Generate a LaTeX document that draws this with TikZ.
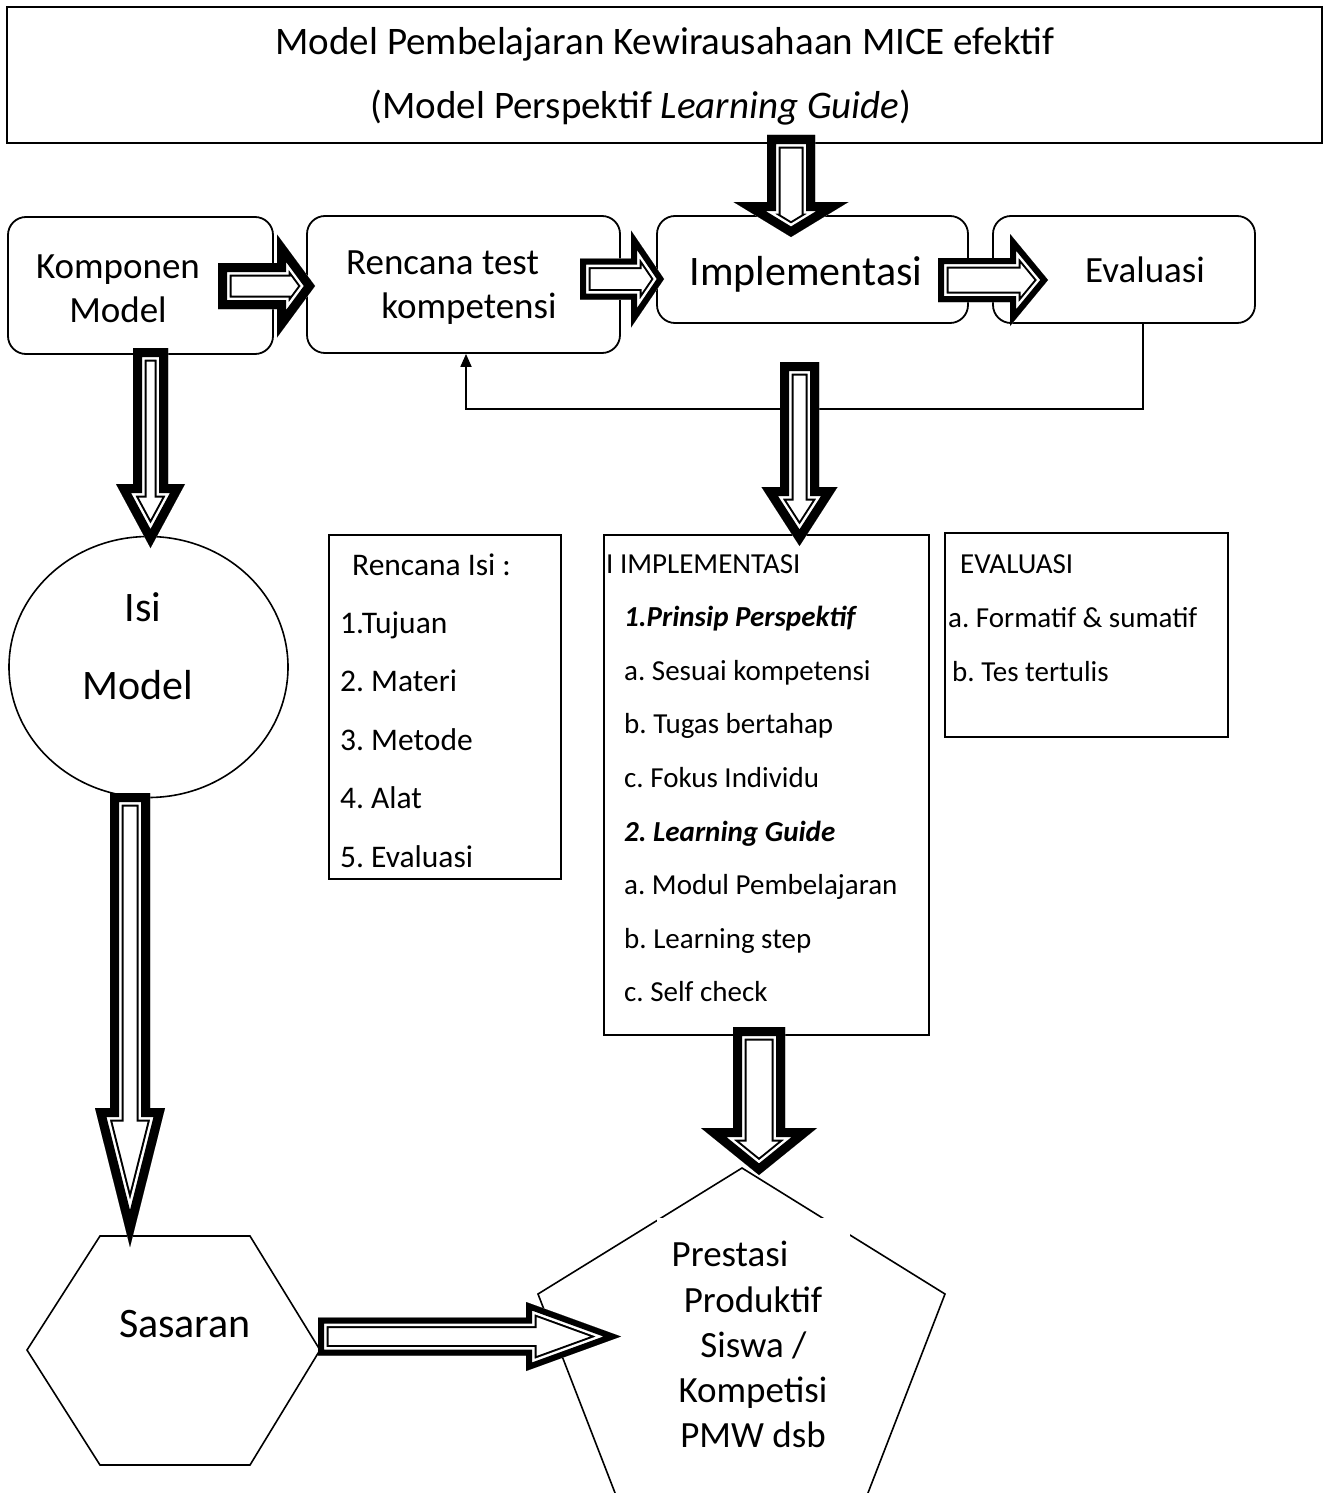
\documentclass[tikz,border=0pt]{standalone}
\usepackage{fontspec}
\setmainfont{Carlito}
\usetikzlibrary{calc,arrows.meta,shapes.geometric}
\frenchspacing

% Hollow block arrow: white body, thick black rim, thin white gap, thin black inner line.
% #1 = rim thickness, #2 = closed outline path
\newcommand\blockarrow[2][9]{%
  \pgfmathsetmacro\bwOuter{2*(#1+4.5)}%
  \pgfmathsetmacro\bwGap{2*(#1+2.5)}%
  \pgfmathsetmacro\bwRim{2*#1}%
  \fill[white] #2;
  \begin{scope}
    \clip #2;
    \draw[line width=\bwOuter pt, line join=miter, miter limit=30] #2;
    \draw[white, line width=\bwGap pt, line join=miter, miter limit=30] #2;
    \draw[line width=\bwRim pt, line join=miter, miter limit=30] #2;
  \end{scope}}

% downward block arrow: [rim]{start}{tip}{shaft half width}{head half width}{head length}
\newcommand\downblock[6][9]{%
  \blockarrow[#1]{($(#2)+(-#4,0)$) -- ($(#2)+(#4,0)$) -- ($(#3)+(#4,-#6)$) -- ($(#3)+(#5,-#6)$) -- (#3) -- ($(#3)+(-#5,-#6)$) -- ($(#3)+(-#4,-#6)$) -- cycle}}

% rightward block arrow: [rim]{start}{tip}{shaft half width}{head half width}{head length}
\newcommand\rightblock[6][9]{%
  \blockarrow[#1]{($(#2)+(0,-#4)$) -- ($(#3)+(-#6,-#4)$) -- ($(#3)+(-#6,-#5)$) -- (#3) -- ($(#3)+(-#6,#5)$) -- ($(#3)+(-#6,#4)$) -- ($(#2)+(0,#4)$) -- cycle}}

\begin{document}
\begin{tikzpicture}[x=1pt,y=-1pt,
  roundbox/.style={draw, line width=1.8pt, rounded corners=18pt, inner sep=0pt},
  plainbox/.style={draw, line width=1.8pt, inner sep=0pt},
  shapeline/.style={line width=1.6pt},
  txtc/.style={inner sep=0pt, anchor=base},
  txtw/.style={inner sep=0pt, anchor=base west},
  fontTitle/.style={font=\fontsize{39}{47}\selectfont},
  fontMid/.style={font=\fontsize{37}{44}\selectfont},
  fontBig/.style={font=\fontsize{42}{50}\selectfont},
  fontList/.style={font=\fontsize{29}{35}\selectfont},
  fontListR/.style={font=\fontsize{31.5}{37}\selectfont},
  feedback/.style={line width=1.8pt, -{Triangle[width=11pt,length=13pt]}},
]
\fill[white] (0,0) rectangle (1331,1493);
\useasboundingbox (0,0) rectangle (1331,1493);

% title
\node[plainbox, minimum width=1315pt, minimum height=136pt] (title) at (664.5,75) {};
\node[txtc, fontTitle] (title1) at (665,55) {Model Pembelajaran Kewirausahaan MICE efektif};
\node[txtc, fontTitle] (title2) at (641,118) {(Model Perspektif \textit{Learning Guide})};

% process row
\node[roundbox, minimum width=265pt, minimum height=137pt] (komp) at (140.5,285.5) {};
\node[txtc, fontMid] (komp1) at (118,278) {Komponen};
\node[txtc, fontMid] (komp2) at (118,322) {Model};

\node[roundbox, minimum width=313pt, minimum height=137pt] (renc) at (463.5,284.5) {};
\node[txtc, fontMid] (renc1) at (442.5,274) {Rencana test};
\node[txtc, fontMid] (renc2) at (469,318) {kompetensi};

\node[roundbox, minimum width=311pt, minimum height=107pt] (impl) at (812.5,269.5) {};
\node[txtc, fontBig] (impl1) at (806,285) {Implementasi};

\node[roundbox, minimum width=262pt, minimum height=107pt] (eval) at (1124,269.5) {};
\node[txtw, fontMid] (eval1) at (1085,282) {Evaluasi};

% detail boxes
\node[plainbox, minimum width=232pt, minimum height=344pt] (isibox) at (445,707) {};
\node[txtw, fontListR] (ri0) at (352,575) {Rencana Isi :};
\foreach \t [count=\i] in {1.Tujuan, 2. Materi, 3. Metode, 4. Alat, 5. Evaluasi}
  \node[txtw, fontListR] (ri\i) at (340,{575+58.4*\i}) {\t};

\node[plainbox, minimum width=325pt, minimum height=500pt] (implbox) at (766.5,785) {};
\node[txtw, fontList] (il0) at (606,573) {I IMPLEMENTASI};
\foreach \t [count=\i] in {{\bfseries\itshape 1.Prinsip Perspektif}, a. Sesuai kompetensi, b. Tugas bertahap, c. Fokus Individu, {\bfseries\itshape 2. Learning Guide}, a. Modul Pembelajaran, b. Learning step, c. Self check}
  \node[txtw, fontList] (il\i) at (624,{573+53.6*\i}) {\t};

\node[plainbox, minimum width=283pt, minimum height=204pt] (evalbox) at (1086.5,635) {};
\node[txtw, fontList] (el0) at (960,573) {EVALUASI};
\node[txtw, fontList] (el1) at (948,627) {a. Formatif \& sumatif};
\node[txtw, fontList] (el2) at (952,681) {b. Tes tertulis};

% content circle
\node[draw, ellipse, line width=1.6pt, minimum width=279pt, minimum height=261pt, inner sep=0pt] (isi) at (148.5,667) {};
\node[txtc, fontBig] (isi1) at (143,621) {Isi};
\node[txtc, fontBig] (isi2) at (138,699) {Model};

% target hexagon
\draw[shapeline] (27,1350) -- (100,1236) -- (250,1236) -- (320,1350) -- (250,1465) -- (100,1465) -- cycle;
\node[txtc, fontBig] (sas) at (185,1337) {Sasaran};

% outcome pentagon, running off the page bottom
\begin{scope}
  \clip (0,0) rectangle (1331,1493);
  \draw[shapeline] (742,1168) -- (945,1294) -- (842,1560) -- (641,1560) -- (538,1294) -- cycle;
\end{scope}
\fill[white] (657,1218) rectangle (850,1480);
\node[txtc, fontMid] (pr1) at (730,1266) {Prestasi};
\node[txtc, fontMid] (pr2) at (753,1312) {Produktif};
\node[txtc, fontMid] (pr3) at (753.5,1357) {Siswa /};
\node[txtc, fontMid] (pr4) at (753,1402) {Kompetisi};
\node[txtc, fontMid] (pr5) at (753,1447) {PMW dsb};

% feedback from evaluation to test planning
\coordinate (fbR) at (1143,409);
\coordinate (fbL) at (466,409);
\draw[feedback] (eval.south -| fbR) -- (fbR) -- (fbL) -- (renc.south -| fbL);

% block arrows
\coordinate (a0s) at (791,135);    \coordinate (a0e) at (791,237);
\coordinate (a1s) at (218,286);    \coordinate (a1e) at (315,286);
\coordinate (a2s) at (580,279);    \coordinate (a2e) at (664,279);
\coordinate (a3s) at (938,280);    \coordinate (a3e) at (1048,280);
\coordinate (a4s) at (150.5,348);  \coordinate (a4e) at (150.5,548);
\coordinate (a5s) at (799.5,362);  \coordinate (a5e) at (799.5,546);
\coordinate (a6s) at (130,793);    \coordinate (a6e) at (130,1247);
\coordinate (a7s) at (759,1027);   \coordinate (a7e) at (759,1175);
\coordinate (a8s) at (318,1336.5); \coordinate (a8e) at (621,1336.5);

\downblock{a0s}{a0e}{24}{57.5}{35}
\rightblock{a1s}{a1e}{23}{51.5}{38}
\rightblock[6]{a2s}{a2e}{20.5}{48.5}{33}
\rightblock[6]{a3s}{a3e}{22}{46}{38}
\downblock{a4s}{a4e}{17.5}{34.5}{64}
\downblock{a5s}{a5e}{19.5}{38}{59}
\downblock{a6s}{a6e}{20}{35}{139}
\downblock{a7s}{a7e}{26}{58}{47}
\rightblock[6]{a8s}{a8e}{19}{34.5}{95}
\end{tikzpicture}
\end{document}
